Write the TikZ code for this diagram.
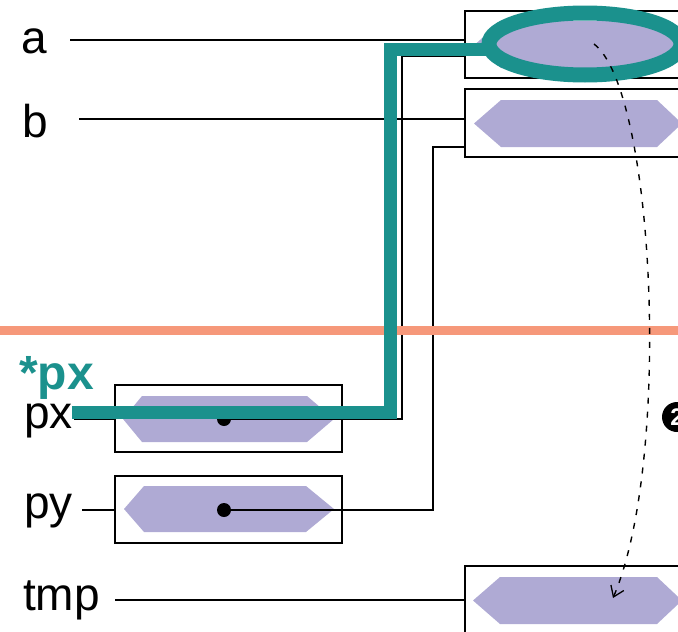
\documentclass[tikz,border=0pt]{standalone}
\usepackage{fontspec}
\setmainfont{Liberation Sans}
\usetikzlibrary{shapes.geometric,calc,arrows.meta}
\definecolor{tealc}{RGB}{27,145,141}
\definecolor{lav}{RGB}{175,170,212}
\definecolor{orng}{RGB}{246,152,122}
\begin{document}
\begin{tikzpicture}[x=1pt,y=-1pt,
 box/.style={draw=black,line width=1.3pt,rectangle,inner sep=0,outer sep=0},
 lbl/.style={font=\fontsize{46}{50}\selectfont,inner sep=0,anchor=base west},
 thinline/.style={line width=1.3pt},
 hexf/.style={fill=lav},
 dotn/.style={circle,fill=black,inner sep=0,minimum size=14pt},
 tealpath/.style={draw=tealc,line width=13pt},
 dashcurve/.style={line width=1.4pt,dash pattern=on 6pt off 8pt},
 ]
\useasboundingbox (0,0) rectangle (678,632);
\clip (0,0) rectangle (678,632);
% boxes
\node[box,minimum width=240pt,minimum height=67pt] (boxa) at (585,44.5) {};
\node[box,minimum width=240pt,minimum height=68pt] (boxb) at (585,123) {};
\node[box,minimum width=240pt,minimum height=68pt] (boxtmp) at (585,600) {};
\node[box,minimum width=227pt,minimum height=67pt] (boxpx) at (228.5,418.5) {};
\node[box,minimum width=227pt,minimum height=67pt] (boxpy) at (228.5,509.5) {};
% hexagons
\path[hexf] (475,44.5) -- (501,21) -- (657,21) -- (682,44.5) -- (657,68) -- (501,68) -- cycle;
\path[hexf] (474,123.5) -- (501,100) -- (657,100) -- (682,123.5) -- (657,147) -- (501,147) -- cycle;
\path[hexf] (473,600.5) -- (500,577) -- (657,577) -- (682,600.5) -- (657,624) -- (500,624) -- cycle;
\path[hexf] (123,419) -- (142,396) -- (307,396) -- (334,419) -- (307,442) -- (142,442) -- cycle;
\path[hexf] (124,509) -- (144,486) -- (306,486) -- (334,509) -- (306,532) -- (144,532) -- cycle;
% labels
\node[lbl] (la) at (21,53) {a};
\node[lbl] (lb) at (22,137) {b};
\node[lbl] (lpx) at (24,428) {px};
\node[lbl] (lpy) at (24,518) {py};
\node[lbl] (ltmp) at (23,610) {tmp};
\node[lbl,font=\bfseries\fontsize{48}{50}\selectfont,text=tealc] (lstar) at (19,389) {*px};
% label lines
\coordinate (aS) at (70,40);
\coordinate (bS) at (79,119);
\coordinate (tS) at (115,600);
\coordinate (pxS) at (74,419);
\coordinate (pyS) at (82,510);
\draw[thinline] (aS) -- (aS -| boxa.west);
\draw[thinline] (bS) -- (bS -| boxb.west);
\draw[thinline] (tS) -- (tS -| boxtmp.west);
\draw[thinline] (pxS) -- (pxS -| boxpx.west);
\draw[thinline] (pyS) -- (pyS -| boxpy.west);
% dots and pointers
\node[dotn] (dpx) at (224,419) {};
\node[dotn] (dpy) at (224,510) {};
\coordinate (pxc) at (402,56);
\coordinate (pyc) at (433,147);
\draw[thinline] (dpx.center) -| (pxc) -- (pxc -| boxa.west);
\draw[thinline] (dpy.center) -| (pyc) -- (pyc -| boxb.west);
% orange separator
\coordinate (oL) at (0,330.5);
\coordinate (oR) at (678,330.5);
\draw[orng,line width=9pt] (oL) -- (oR);
% teal highlight
\node[ellipse,draw=tealc,line width=15pt,minimum width=192pt,minimum height=62pt,inner sep=0,outer sep=0] (ell) at (585,44) {};
\coordinate (tcS) at (72,412);
\coordinate (tcC) at (390.5,49);
\draw[tealpath] (tcS) -| (tcC) -- (tcC -| ell.west);
% dashed move arrow
\coordinate (dS) at (594,44);
\coordinate (dE) at (613,598);
\draw[dashcurve,-{Straight Barb[length=10pt,width=14pt,line width=1.3pt]}] (dS) .. controls (655,90) and (672,460) .. (dE);
% number marker
\node[circle,fill=black,text=white,inner sep=0,minimum size=30pt,font=\bfseries\fontsize{24}{24}\selectfont] (n2) at (677,417) {2};
\end{tikzpicture}
\end{document}
